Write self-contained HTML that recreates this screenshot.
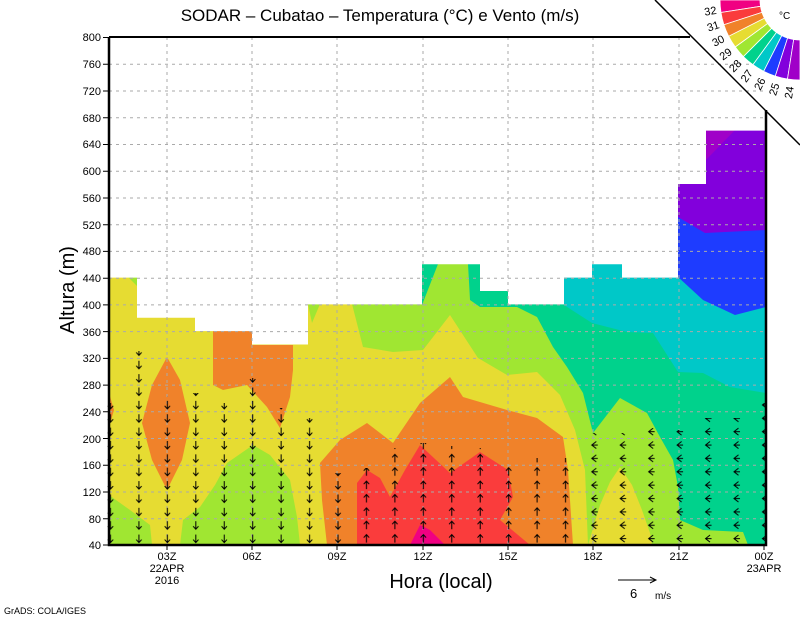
<!DOCTYPE html>
<html><head><meta charset="utf-8"><style>
html,body{margin:0;padding:0;background:#fff;}
svg{display:block;}
text{font-family:"Liberation Sans",sans-serif;fill:#000;}
</style></head><body>
<svg width="800" height="618" viewBox="0 0 800 618" xmlns="http://www.w3.org/2000/svg">
<defs>
<pattern id="pd" patternUnits="userSpaceOnUse" x="96.3" y="531.6" width="28.44" height="13.37">
<path d="M14.2,3 V11 M11.5,8 L14.2,11 L16.9,8" stroke="#000" stroke-width="1" fill="none"/></pattern>
<pattern id="pu" patternUnits="userSpaceOnUse" x="96.3" y="531.6" width="28.44" height="13.37">
<path d="M14.2,11 V3 M11.5,6 L14.2,3 L16.9,6" stroke="#000" stroke-width="1" fill="none"/></pattern>
<pattern id="pl" patternUnits="userSpaceOnUse" x="96.3" y="531.6" width="28.44" height="13.37">
<path d="M16.5,3.5 L12,7 L16.5,10.5 M12,7 H18" stroke="#000" stroke-width="1" fill="none"/></pattern>
</defs>

<rect x="109" y="37" width="657" height="508" fill="#e6dc32"/>
<polygon fill="#a0e632" points="352,304 363,347 393,352 423,350 450,315 478,358 507,375 537,372 560,395 575,430 585,470 588,545 766,545 766,264 352,264"/>
<polygon fill="#a0e632" points="109,495 130,510 150,525 152,545 109,545"/>
<polygon fill="#a0e632" points="180,545 183,520 200,507 215,485 227,463 253,445 270,455 290,480 297,517 300,545"/>
<polygon fill="#a0e632" points="308,304 320,304 312,323"/>
<polygon fill="#a0e632" points="128,277 137,277 137,286"/>
<polygon fill="#00d28c" points="422,264 438,264 422,305"/>
<polygon fill="#00d28c" points="468,264 480,264 480,291 508,291 508,304 564,304 564,264 766,264 766,545 748,545 743,532 703,530 680,520 678,487 673,460 660,437 647,413 620,398 593,433 583,393 567,367 553,347 537,317 517,307 480,307 470,300"/>
<polygon fill="#00c8c8" points="564,305 592,323 627,332 653,333 678,372 703,373 730,387 766,393 766,130 564,130"/>
<polygon fill="#1e3cff" points="678,277 703,300 735,315 766,307 766,130 678,130"/>
<polygon fill="#8200dc" points="678,217 705,233 766,230 766,130 678,130"/>
<polygon fill="#a000c8" points="706,130 735,130 706,160"/>
<polygon fill="#e6dc32" points="588,545 600,505 610,482 620,467 632,485 642,510 650,533 652,545"/>
<polygon fill="#f0822a" points="109,393 114,410 109,427"/>
<polygon fill="#f0822a" points="167,357 180,380 190,423 182,460 167,490 152,460 142,423 152,385"/>
<polygon fill="#f0822a" points="213,331 252,331 252,345 293,345 293,370 290,397 280,428 267,407 247,385 223,390 213,385"/>
<polygon fill="#f0822a" points="327,545 322,500 320,463 340,440 367,423 393,443 420,403 450,377 463,397 507,410 537,418 563,437 568,470 573,545"/>
<polygon fill="#fa3c3c" points="357,545 357,483 367,470 380,478 390,497 405,470 420,445 450,473 480,452 508,470 513,497 500,520 530,545"/>
<polygon fill="#f00082" points="410,545 420,525 430,530 445,545"/>

<polygon fill="#fff" points="109,30 770,30 770,130.6 706,130.6 706,184 678,184 678,277.6 622,277.6 622,264.3 592,264.3 592,277.6 564,277.6 564,304.4 508,304.4 508,291 480,291 480,264.3 422,264.3 422,304.4 308,304.4 308,344.5 252,344.5 252,331.1 195,331.1 195,317.7 137,317.7 137,277.6 109,277.6"/>

<g stroke="#aaa" stroke-width="1" stroke-dasharray="3,4" fill="none">
<path d="M109,64.3H766 M109,91H766 M109,117.8H766 M109,144.5H766 M109,171.2H766 M109,198H766 M109,224.7H766 M109,251.4H766 M109,278.2H766 M109,304.9H766 M109,331.6H766 M109,358.4H766 M109,385.1H766 M109,411.8H766 M109,438.5H766 M109,465.3H766 M109,492H766 M109,518.7H766"/>
<path d="M167,37V545 M252,37V545 M337,37V545 M423,37V545 M508,37V545 M593,37V545 M679,37V545"/>
</g>

<g>
<rect x="96.3" y="403" width="28.4" height="142" fill="url(#pd)"/>
<rect x="124.7" y="351" width="28.4" height="194" fill="url(#pd)"/>
<rect x="153.1" y="396" width="28.4" height="149" fill="url(#pd)"/>
<rect x="181.5" y="393" width="28.4" height="152" fill="url(#pd)"/>
<rect x="209.9" y="403" width="28.4" height="142" fill="url(#pd)"/>
<rect x="238.3" y="378" width="28.4" height="167" fill="url(#pd)"/>
<rect x="266.7" y="408" width="28.4" height="137" fill="url(#pd)"/>
<rect x="295.1" y="418" width="28.4" height="127" fill="url(#pd)"/>
<rect x="323.5" y="473" width="28.4" height="72" fill="url(#pd)"/>
<rect x="351.9" y="468" width="28.4" height="77" fill="url(#pu)"/>
<rect x="380.3" y="448" width="28.4" height="97" fill="url(#pu)"/>
<rect x="408.7" y="443" width="28.4" height="102" fill="url(#pu)"/>
<rect x="437.1" y="446" width="28.4" height="99" fill="url(#pu)"/>
<rect x="465.5" y="448" width="28.4" height="97" fill="url(#pu)"/>
<rect x="493.9" y="463" width="28.4" height="82" fill="url(#pu)"/>
<rect x="522.3" y="458" width="28.4" height="87" fill="url(#pu)"/>
<rect x="550.7" y="458" width="28.4" height="87" fill="url(#pu)"/>
<rect x="579.1" y="433" width="28.4" height="112" fill="url(#pl)"/>
<rect x="607.5" y="433" width="28.4" height="112" fill="url(#pl)"/>
<rect x="635.9" y="428" width="28.4" height="117" fill="url(#pl)"/>
<rect x="664.3" y="430" width="28.4" height="115" fill="url(#pl)"/>
<rect x="692.7" y="418" width="28.4" height="127" fill="url(#pl)"/>
<rect x="721.1" y="418" width="28.4" height="127" fill="url(#pl)"/>
<rect x="749.5" y="403" width="16" height="142" fill="url(#pl)"/>
</g>

<g stroke="#000" fill="none">
<path d="M109,37V545H766V110" stroke-width="2.5"/>
<path d="M109,37H690" stroke-width="2"/>
<path d="M655,0 L800,145" stroke-width="1.5"/>
<path d="M103,37.5H109 M103,64.3H109 M103,91H109 M103,117.8H109 M103,144.5H109 M103,171.2H109 M103,198H109 M103,224.7H109 M103,251.4H109 M103,278.2H109 M103,304.9H109 M103,331.6H109 M103,358.4H109 M103,385.1H109 M103,411.8H109 M103,438.5H109 M103,465.3H109 M103,492H109 M103,518.7H109 M103,545H109" stroke-width="1"/>
<path d="M167,545V550 M252,545V550 M337,545V550 M423,545V550 M508,545V550 M593,545V550 M679,545V550 M764,545V550" stroke-width="1"/>
</g>

<g font-size="11" text-anchor="end">
<text x="101" y="41">800</text><text x="101" y="68">760</text><text x="101" y="95">720</text><text x="101" y="122">680</text>
<text x="101" y="148">640</text><text x="101" y="175">600</text><text x="101" y="202">560</text><text x="101" y="229">520</text>
<text x="101" y="255">480</text><text x="101" y="282">440</text><text x="101" y="309">400</text><text x="101" y="336">360</text>
<text x="101" y="362">320</text><text x="101" y="389">280</text><text x="101" y="416">240</text><text x="101" y="443">200</text>
<text x="101" y="469">160</text><text x="101" y="496">120</text><text x="101" y="523">80</text><text x="101" y="549">40</text>
</g>
<g font-size="11" text-anchor="middle">
<text x="167" y="560">03Z</text><text x="167" y="572">22APR</text><text x="167" y="584">2016</text>
<text x="252" y="560">06Z</text><text x="337" y="560">09Z</text><text x="423" y="560">12Z</text>
<text x="508" y="560">15Z</text><text x="593" y="560">18Z</text><text x="679" y="560">21Z</text>
<text x="764" y="560">00Z</text><text x="764" y="572">23APR</text>
</g>

<text x="380" y="21" font-size="17" text-anchor="middle">SODAR – Cubatao – Temperatura (°C) e Vento (m/s)</text>
<text x="441" y="588" font-size="20" text-anchor="middle">Hora (local)</text>
<text transform="translate(74,290) rotate(-90)" font-size="20" text-anchor="middle">Altura (m)</text>
<text x="4" y="614" font-size="9">GrADS: COLA/IGES</text>
<g stroke="#000" fill="none"><path d="M618,580H656 M650,577L656,580L650,583"/></g>
<text x="630" y="598" font-size="13">6</text><text x="655" y="599" font-size="10">m/s</text>

<g stroke="#fff" stroke-width="0.8">
<path d="M720,0 A80,80 0 0 0 721.0,12.5 L760.5,6.3 A40,40 0 0 1 760,0Z" fill="#f00082"/>
<path d="M721.0,12.5 A80,80 0 0 0 723.9,24.7 L762,12.4 A40,40 0 0 1 760.5,6.3Z" fill="#fa3c3c"/>
<path d="M723.9,24.7 A80,80 0 0 0 728.7,36.3 L764.4,18.2 A40,40 0 0 1 762,12.4Z" fill="#f0822a"/>
<path d="M728.7,36.3 A80,80 0 0 0 735.3,47 L767.6,23.5 A40,40 0 0 1 764.4,18.2Z" fill="#e6dc32"/>
<path d="M735.3,47 A80,80 0 0 0 743.4,56.6 L771.7,28.3 A40,40 0 0 1 767.6,23.5Z" fill="#a0e632"/>
<path d="M743.4,56.6 A80,80 0 0 0 753,64.7 L776.5,32.4 A40,40 0 0 1 771.7,28.3Z" fill="#00d28c"/>
<path d="M753,64.7 A80,80 0 0 0 763.7,71.3 L781.8,35.6 A40,40 0 0 1 776.5,32.4Z" fill="#00c8c8"/>
<path d="M763.7,71.3 A80,80 0 0 0 775.3,76.1 L787.6,38 A40,40 0 0 1 781.8,35.6Z" fill="#1e3cff"/>
<path d="M775.3,76.1 A80,80 0 0 0 787.5,79 L793.7,39.5 A40,40 0 0 1 787.6,38Z" fill="#8200dc"/>
<path d="M787.5,79 A80,80 0 0 0 800,80 L800,40 A40,40 0 0 1 793.7,39.5Z" fill="#a000c8"/>
</g>
<g font-size="11" text-anchor="end">
<text transform="translate(717,13.8) rotate(-9)">32</text>
<text transform="translate(720.1,27.8) rotate(-18)">31</text>
<text transform="translate(725.4,41.3) rotate(-27)">30</text>
<text transform="translate(732.8,53.5) rotate(-36)">29</text>
<text transform="translate(742.2,64.2) rotate(-45)">28</text>
<text transform="translate(753.3,73.2) rotate(-54)">27</text>
<text transform="translate(765.9,80.1) rotate(-63)">26</text>
<text transform="translate(779.6,84.6) rotate(-72)">25</text>
<text transform="translate(793.8,87) rotate(-81)">24</text>
</g>
<text x="779" y="19" font-size="10">°C</text>
</svg>
</body></html>
